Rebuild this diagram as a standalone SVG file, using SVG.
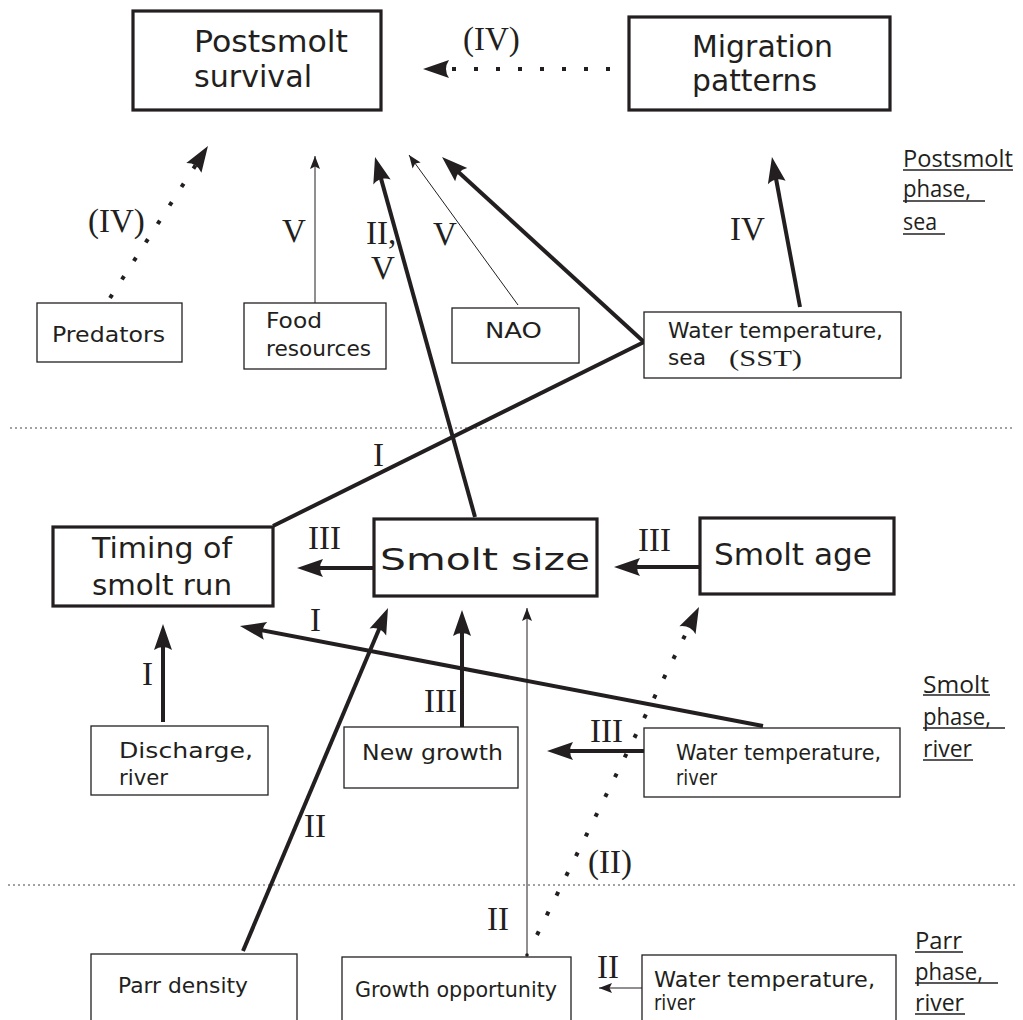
<svg xmlns="http://www.w3.org/2000/svg" width="1023" height="1020" viewBox="0 0 1023 1020">
<style>
.bg{fill:#ffffff}
.box{fill:#ffffff;stroke:#231f20;stroke-width:1.3}
.boxk{fill:#ffffff;stroke:#231f20;stroke-width:3.2}
.t{font-family:"DejaVu Sans",sans-serif;fill:#231f20}
.r{font-family:"Liberation Serif",serif;fill:#231f20;font-size:33px}
.ph{font-family:"Open Sans",sans-serif;fill:#231f20;font-size:23px}
.ul{stroke:#231f20;stroke-width:1.3}
.sep{stroke:#444;stroke-width:1;stroke-dasharray:2 3;fill:none}
.hv{stroke:#231f20;stroke-width:4;fill:none;marker-end:url(#ah)}
.tn{stroke:#231f20;stroke-width:1;fill:none;marker-end:url(#aht)}
.dt{stroke:#231f20;stroke-width:4;fill:none;stroke-dasharray:4 18;marker-end:url(#ahd)}
.ln{stroke:#231f20;stroke-width:4;fill:none}
</style>
<defs>
<marker id="ah" markerUnits="userSpaceOnUse" markerWidth="26" markerHeight="20" viewBox="0 0 26 20" refX="16" refY="10" orient="auto" overflow="visible"><path d="M26,10 L0,1 Q6,10 0,19 Z" fill="#231f20"/></marker>
<marker id="ahd" markerUnits="userSpaceOnUse" markerWidth="26" markerHeight="20" viewBox="0 0 26 20" refX="3" refY="10" orient="auto" overflow="visible"><path d="M26,10 L0,1 Q6,10 0,19 Z" fill="#231f20"/></marker>
<marker id="aht" markerUnits="userSpaceOnUse" markerWidth="13" markerHeight="10" viewBox="0 0 13 10" refX="13" refY="5" orient="auto" overflow="visible"><path d="M13,5 L0,0 L2.5,5 L0,10 Z" fill="#231f20"/></marker>
</defs>
<rect class="bg" x="0" y="0" width="1023" height="1020"/>

<g id="separators">
<line class="sep" x1="10" y1="428" x2="1012" y2="428"/>
<line class="sep" x1="8" y1="885" x2="1015" y2="885"/>
</g>

<g id="connectors">
<line class="dt" x1="610" y1="69" x2="446" y2="69"/>
<line class="dt" x1="110" y1="298" x2="195.5" y2="165.3"/>
<line class="tn" x1="315" y1="303" x2="315" y2="156"/>
<line class="hv" x1="475" y1="517" x2="377.7" y2="166.6"/>
<line class="tn" x1="518" y1="305" x2="409" y2="155"/>
<line class="hv" x1="644" y1="342" x2="449.4" y2="163.8"/>
<line class="ln" x1="273" y1="526" x2="644" y2="342"/>
<line class="hv" x1="800" y1="307" x2="773.8" y2="166.8"/>
<line class="hv" x1="373" y1="568" x2="307" y2="568"/>
<line class="hv" x1="699" y1="567" x2="624" y2="567"/>
<line class="hv" x1="763" y1="726" x2="249.8" y2="627.9"/>
<line class="hv" x1="163" y1="722" x2="163" y2="634"/>
<line class="hv" x1="462" y1="727" x2="462" y2="620"/>
<line class="hv" x1="243" y1="951" x2="384.1" y2="617.2"/>
<line class="tn" x1="527" y1="955" x2="527" y2="608"/>
<circle cx="527" cy="955" r="1.8" fill="#231f20"/>
<line class="dt" x1="537" y1="935" x2="688.8" y2="627.6"/>
<line class="hv" x1="645" y1="751" x2="557" y2="751"/>
<line class="tn" x1="642" y1="988" x2="599" y2="988"/>
</g>

<g id="labels">
<text class="r" x="463" y="50">(IV)</text>
<text class="r" x="88" y="232">(IV)</text>
<text class="r" x="282" y="242">V</text>
<text class="r" x="366" y="244">II,</text>
<text class="r" x="371" y="279">V</text>
<text class="r" x="433" y="245">V</text>
<text class="r" x="730" y="240">IV</text>
<text class="r" x="373" y="466">I</text>
<text class="r" x="308" y="549">III</text>
<text class="r" x="638" y="551">III</text>
<text class="r" x="310" y="631">I</text>
<text class="r" x="142" y="685">I</text>
<text class="r" x="424" y="712">III</text>
<text class="r" x="590" y="742">III</text>
<text class="r" x="304" y="837">II</text>
<text class="r" x="487" y="930">II</text>
<text class="r" x="588" y="873">(II)</text>
<text class="r" x="597" y="978">II</text>
</g>

<g id="n-postsmolt-survival">
<rect class="boxk" x="133" y="11" width="248" height="99"/>
<text class="t" font-size="30" x="194" y="52" textLength="154" lengthAdjust="spacingAndGlyphs">Postsmolt</text>
<text class="t" font-size="30" x="194" y="87" textLength="118" lengthAdjust="spacingAndGlyphs">survival</text>
</g>

<g id="n-migration-patterns">
<rect class="boxk" x="629" y="17" width="261" height="93"/>
<text class="t" font-size="30" x="692" y="57" textLength="141" lengthAdjust="spacingAndGlyphs">Migration</text>
<text class="t" font-size="30" x="692" y="91" textLength="125" lengthAdjust="spacingAndGlyphs">patterns</text>
</g>

<g id="n-predators">
<rect class="box" x="37" y="303" width="145" height="59"/>
<text class="t" font-size="22" x="52" y="342" textLength="113" lengthAdjust="spacingAndGlyphs">Predators</text>
</g>

<g id="n-food-resources">
<rect class="box" x="244" y="303" width="142" height="66"/>
<text class="t" font-size="22" x="266" y="328" textLength="56" lengthAdjust="spacingAndGlyphs">Food</text>
<text class="t" font-size="22" x="266" y="356" textLength="105" lengthAdjust="spacingAndGlyphs">resources</text>
</g>

<g id="n-nao">
<rect class="box" x="452" y="308" width="127" height="55"/>
<text class="t" font-size="22" x="485" y="338" textLength="57" lengthAdjust="spacingAndGlyphs">NAO</text>
</g>

<g id="n-water-temperature-sea">
<rect class="box" x="644" y="312" width="257" height="66"/>
<text class="t" font-size="21" x="668" y="338" textLength="215" lengthAdjust="spacingAndGlyphs">Water temperature,</text>
<text class="t" font-size="21" x="668" y="365" textLength="38" lengthAdjust="spacingAndGlyphs">sea</text>
<text class="r" x="729" y="366" style="font-size:24px" textLength="73" lengthAdjust="spacingAndGlyphs">(SST)</text>
</g>

<g id="phase-postsmolt">
<text class="ph" x="903" y="167" textLength="110" lengthAdjust="spacingAndGlyphs">Postsmolt</text>
<line class="ul" x1="903" y1="170" x2="1013" y2="170"/>
<text class="ph" x="903" y="197" textLength="68" lengthAdjust="spacingAndGlyphs">phase,</text>
<line class="ul" x1="903" y1="201" x2="985" y2="201"/>
<text class="ph" x="903" y="230" textLength="34" lengthAdjust="spacingAndGlyphs">sea</text>
<line class="ul" x1="903" y1="234" x2="945" y2="234"/>
</g>

<g id="n-timing-of-smolt-run">
<rect class="boxk" x="53" y="527" width="220" height="79"/>
<text class="t" font-size="29" x="92" y="558" textLength="140" lengthAdjust="spacingAndGlyphs">Timing of</text>
<text class="t" font-size="29" x="92" y="595" textLength="140" lengthAdjust="spacingAndGlyphs">smolt run</text>
</g>

<g id="n-smolt-size">
<rect class="boxk" x="374" y="519" width="223" height="77"/>
<text class="t" font-size="31" x="380" y="570" textLength="210" lengthAdjust="spacingAndGlyphs">Smolt size</text>
</g>

<g id="n-smolt-age">
<rect class="boxk" x="700" y="518" width="194" height="76"/>
<text class="t" font-size="30" x="714" y="565" textLength="158" lengthAdjust="spacingAndGlyphs">Smolt age</text>
</g>

<g id="n-discharge-river">
<rect class="box" x="91" y="726" width="177" height="69"/>
<text class="t" font-size="22" x="119" y="758" textLength="134" lengthAdjust="spacingAndGlyphs">Discharge,</text>
<text class="t" font-size="22" x="119" y="785" textLength="49" lengthAdjust="spacingAndGlyphs">river</text>
</g>

<g id="n-new-growth">
<rect class="box" x="344" y="727" width="174" height="61"/>
<text class="t" font-size="22" x="362" y="760" textLength="141" lengthAdjust="spacingAndGlyphs">New growth</text>
</g>

<g id="n-water-temperature-river-smolt">
<rect class="box" x="644" y="728" width="256" height="69"/>
<text class="t" font-size="22" x="676" y="760" textLength="205" lengthAdjust="spacingAndGlyphs">Water temperature,</text>
<text class="t" font-size="22" x="676" y="785" textLength="41" lengthAdjust="spacingAndGlyphs">river</text>
</g>

<g id="phase-smolt">
<text class="ph" x="923" y="693" textLength="66" lengthAdjust="spacingAndGlyphs">Smolt</text>
<line class="ul" x1="923" y1="695" x2="990" y2="695"/>
<text class="ph" x="923" y="725" textLength="68" lengthAdjust="spacingAndGlyphs">phase,</text>
<line class="ul" x1="923" y1="728" x2="1005" y2="728"/>
<text class="ph" x="923" y="757" textLength="49" lengthAdjust="spacingAndGlyphs">river</text>
<line class="ul" x1="923" y1="760" x2="973" y2="760"/>
</g>

<g id="n-parr-density">
<rect class="box" x="91" y="954" width="206" height="80"/>
<text class="t" font-size="22" x="118" y="993" textLength="130" lengthAdjust="spacingAndGlyphs">Parr density</text>
</g>

<g id="n-growth-opportunity">
<rect class="box" x="342" y="957" width="229" height="80"/>
<text class="t" font-size="22" x="355" y="997" textLength="202" lengthAdjust="spacingAndGlyphs">Growth opportunity</text>
</g>

<g id="n-water-temperature-river-parr">
<rect class="box" x="642" y="955" width="254" height="80"/>
<text class="t" font-size="22" x="654" y="987" textLength="221" lengthAdjust="spacingAndGlyphs">Water temperature,</text>
<text class="t" font-size="22" x="654" y="1010" textLength="41" lengthAdjust="spacingAndGlyphs">river</text>
</g>

<g id="phase-parr">
<text class="ph" x="915" y="949" textLength="47" lengthAdjust="spacingAndGlyphs">Parr</text>
<line class="ul" x1="915" y1="952" x2="963" y2="952"/>
<text class="ph" x="915" y="980" textLength="68" lengthAdjust="spacingAndGlyphs">phase,</text>
<line class="ul" x1="915" y1="983" x2="998" y2="983"/>
<text class="ph" x="915" y="1011" textLength="49" lengthAdjust="spacingAndGlyphs">river</text>
<line class="ul" x1="915" y1="1014" x2="965" y2="1014"/>
</g>
</svg>
